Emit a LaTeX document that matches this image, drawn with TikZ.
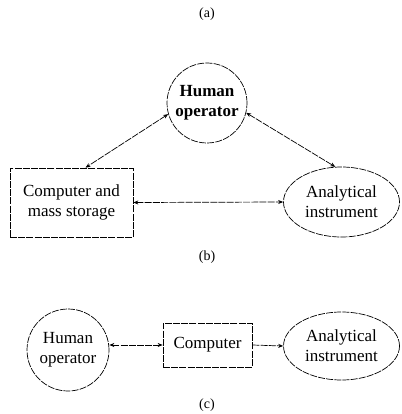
\documentclass[tikz,border=0pt]{standalone}
\usepackage{fontspec}
\setmainfont{Liberation Serif}
\usetikzlibrary{arrows.meta,shapes.geometric}
\begin{document}
\begin{tikzpicture}[x=1pt,y=-1pt,
  brk/.style={dash pattern=on 7pt off 1.2pt, line width=0.7pt},
  lbl/.style={font=\fontsize{17}{20}\selectfont, align=center, inner sep=0pt},
  captxt/.style={font=\fontsize{14}{16}\selectfont, inner sep=0pt},
  circ/.style={circle, draw, brk, minimum size=80pt, lbl},
  ell/.style={ellipse, draw, brk, minimum width=116pt, minimum height=70pt, lbl},
  box/.style={rectangle, draw, brk, lbl},
  conn/.style={brk, {Stealth[length=5pt,width=4pt]}-{Stealth[length=5pt,width=4pt]}},
  conn1/.style={brk, -{Stealth[length=5pt,width=4pt]}}]
\useasboundingbox (0,0) rectangle (401,414);
\node[captxt] (capa) at (207,14) {(a)};
% (b)
\node[circ] (hob) at (207,103) {\bfseries Human\\\bfseries operator};
\node[box, minimum width=123pt, minimum height=69pt] (cms) at (71.5,202.5) {Computer and\\mass storage};
\node[ell] (aib) at (341.5,202) {Analytical\\instrument};
\node[captxt] (capb) at (207,257) {(b)};
\draw[conn] (hob.196) -- ([xshift=14pt]cms.north);
\draw[conn] (hob.-14) -- (aib.100);
\draw[conn] (cms.east) -- (aib.west);
% (c)
\node[circ, minimum size=82pt] (hoc) at (68,350) {Human\\operator};
\node[box, minimum width=89pt, minimum height=44pt] (comp) at (207.5,345) {Computer};
\node[ell, minimum height=68pt] (aic) at (341.5,346) {Analytical\\instrument};
\node[captxt] (capc) at (207,405) {(c)};
\draw[conn] (hoc.east |- comp.west) -- (comp.west);
\draw[conn1] (comp.east) -- (aic.west);
\end{tikzpicture}
\end{document}
